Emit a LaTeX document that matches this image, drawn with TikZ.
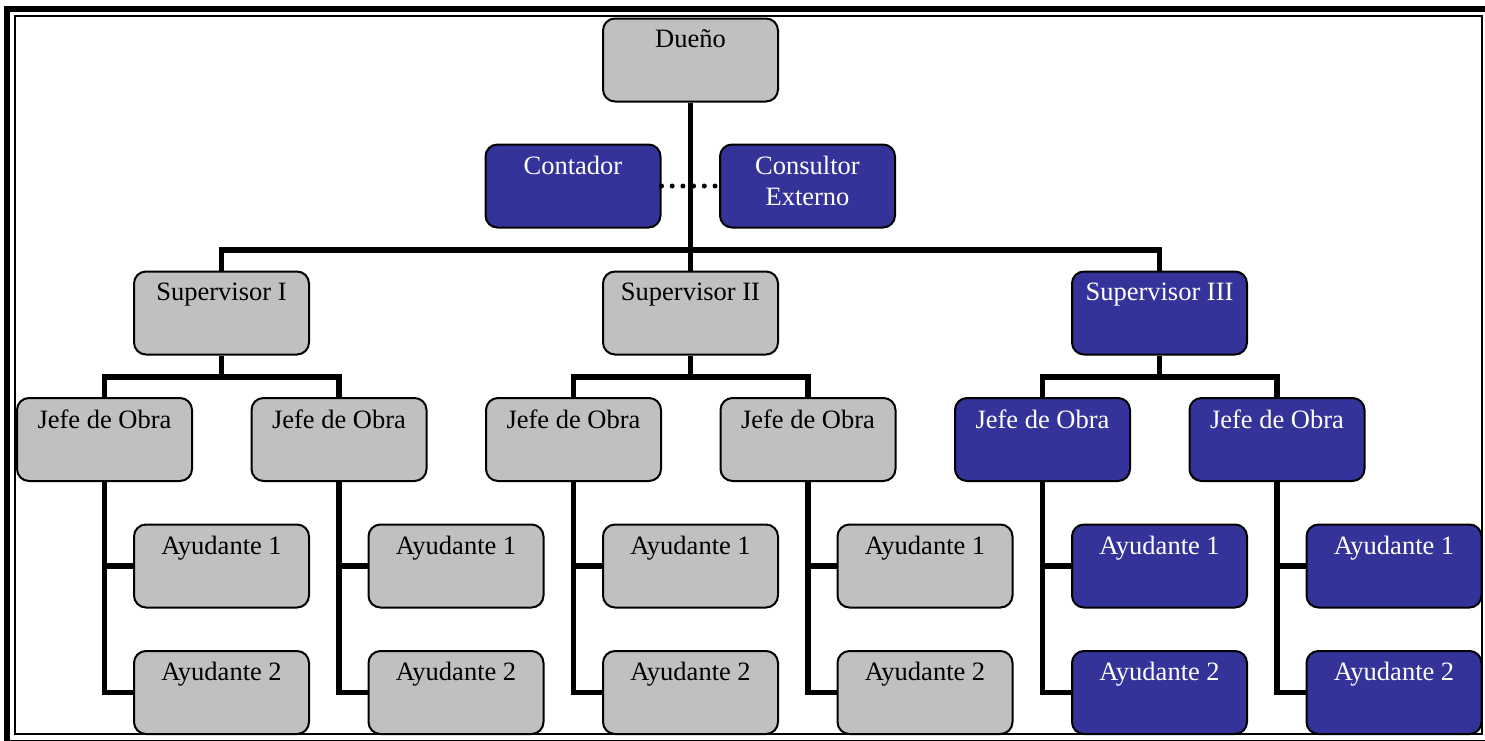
\documentclass[tikz,border=0pt]{standalone}
\usepackage{fontspec}
\setmainfont{Liberation Serif}

\definecolor{boxgray}{HTML}{C0C0C0}
\definecolor{boxblue}{HTML}{333399}
\newcommand{\orgfont}{\fontsize{13.25pt}{15.5pt}\selectfont}

\tikzset{
  orgbox/.style={draw, line width=1pt, rounded corners=6pt, fill=boxgray,
    minimum width=87.5pt, minimum height=41.5pt, inner sep=0pt},
  bluebox/.style={orgbox, fill=boxblue},
  txt/.style={label={[anchor=north, yshift=-6pt, inner sep=0pt, align=center,
    font=\orgfont]north:#1}},
  wtxt/.style={label={[anchor=north, yshift=-6pt, inner sep=0pt, align=center,
    font=\orgfont, text=white]north:#1}},
  link/.style={line width=2.75pt}
}

\begin{document}
\begin{tikzpicture}[x=0.5pt,y=-0.5pt]
  % Page frame
  \useasboundingbox (0,0) rectangle (1485,740);
  \clip (0,0) rectangle (1485,740);
  \draw[line width=3pt] (7,9) rectangle (1490,743);
  \draw[line width=1pt] (15,16) rectangle (1481.5,734);

  % Top of the chart
  \node[orgbox, txt=Dueño] (own) at (690.5,60) {};
  \node[bluebox, wtxt=Contador] (acc) at (573,186) {};
  \node[bluebox, wtxt={Consultor\\Externo}] (ext) at (807.5,186) {};

  % Supervisors
  \node[orgbox, txt=Supervisor I] (s1) at (221.5,313) {};
  \node[orgbox, txt=Supervisor II] (s2) at (690.5,313) {};
  \node[bluebox, wtxt=Supervisor III] (s3) at (1159.5,313) {};

  \def\dx{234.5}

  % Jefes de obra and their helpers
  \foreach \i/\sty/\lbl in {1/orgbox/txt,2/orgbox/txt,3/orgbox/txt,
                             4/orgbox/txt,5/bluebox/wtxt,6/bluebox/wtxt}{
    \node[\sty, \lbl=Jefe de Obra] (j\i) at ({104.5+\dx*(\i-1)},439.5) {};
    \node[\sty, \lbl=Ayudante 1] (a\i) at ({221.5+\dx*(\i-1)},566) {};
    \node[\sty, \lbl=Ayudante 2] (b\i) at ({221.5+\dx*(\i-1)},692.5) {};
    \draw[link] (j\i.south) |- (a\i.west);
    \draw[link] (j\i.south) |- (b\i.west);
  }

  % Links
  \coordinate (top) at (690.5,250);
  \draw[link] (own.south) -- (top);
  \draw[link] (s1.north) |- (top) -| (s3.north);
  \draw[link] (top) -- (s2.north);
  \draw[line width=2.5pt, dash pattern=on 0pt off 5.35pt, line cap=round]
    (acc.east) -- (ext.west);

  \foreach \s/\l/\r in {1/1/2,2/3/4,3/5/6}{
    \coordinate (m\s) at ([yshift=-10.75pt]s\s.south);
    \draw[link] (s\s.south) -- (m\s);
    \draw[link] (j\l.north) |- (m\s) -| (j\r.north);
  }

\end{tikzpicture}
\end{document}
